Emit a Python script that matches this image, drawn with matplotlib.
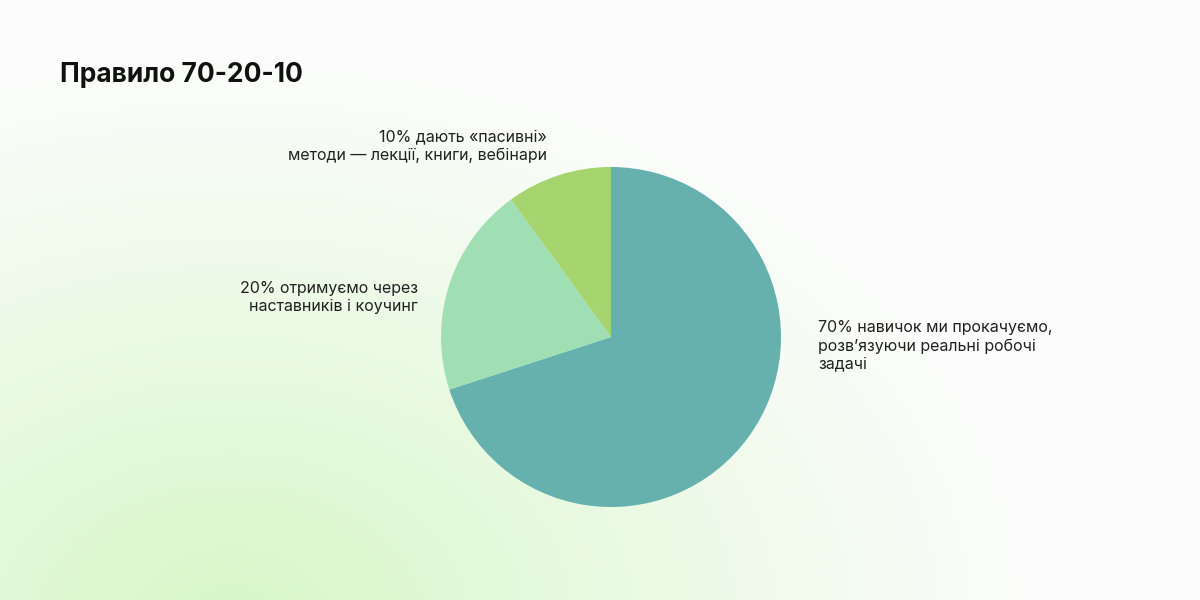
import numpy as np
import matplotlib
matplotlib.use("Agg")
import matplotlib.pyplot as plt

title = "Правило 70-20-10"
shares = [70, 20, 10]
labels = ["70% навичок ми прокачуємо,\nрозв’язуючи реальні робочі\nзадачі",
          "20% отримуємо через\nнаставників і коучинг",
          "10% дають «пасивні»\nметоди — лекції, книги, вебінари"]
colors = ["#66b0ae", "#a0dfb3", "#a6d46e"]

plt.rcParams['font.family'] = ['Inter', 'DejaVu Sans']
fig = plt.figure(figsize=(12, 6), dpi=100)

# background gradient
bg = fig.add_axes([0, 0, 1, 1])
W, H = 300, 150
xx, yy = np.meshgrid(np.linspace(0, 1200, W), np.linspace(0, 600, H))
d = np.sqrt(((xx - 230) / 800) ** 2 + ((yy - 620) / 560) ** 2)
t = np.clip(1 - d, 0, 1) ** 1.1
c0 = np.array([0.985, 0.99, 0.985])
c1 = np.array([0.84, 0.97, 0.78])
img = c0[None, None, :] * (1 - t[..., None]) + c1[None, None, :] * t[..., None]
bg.imshow(img, extent=[0, 1200, 600, 0], aspect='auto')
bg.set_xlim(0, 1200); bg.set_ylim(600, 0); bg.axis('off')

ax = fig.add_axes([(611 - 170) / 1200, (600 - 337 - 170) / 600, 340 / 1200, 340 / 600])
ax.pie(shares, colors=colors, startangle=90, counterclock=False,
       wedgeprops=dict(linewidth=0))
ax.set_xlim(-1, 1); ax.set_ylim(-1, 1)
ax.set_aspect('equal')

fig.text(60 / 1200, 1 - 75 / 600, title, fontsize=19, fontweight='bold',
         va='center', ha='left', color='#111111')
fs = 11.5
fig.text(818 / 1200, 1 - 346 / 600, labels[0], fontsize=fs, ha='left', va='center',
         linespacing=1.25, color='#222222')
fig.text(418 / 1200, 1 - 297 / 600, labels[1], fontsize=fs, ha='right', va='center',
         multialignment='right', linespacing=1.25, color='#222222')
fig.text(547 / 1200, 1 - 146 / 600, labels[2], fontsize=fs, ha='right', va='center',
         multialignment='right', linespacing=1.25, color='#222222')

fig.savefig("out.png", dpi=100)
